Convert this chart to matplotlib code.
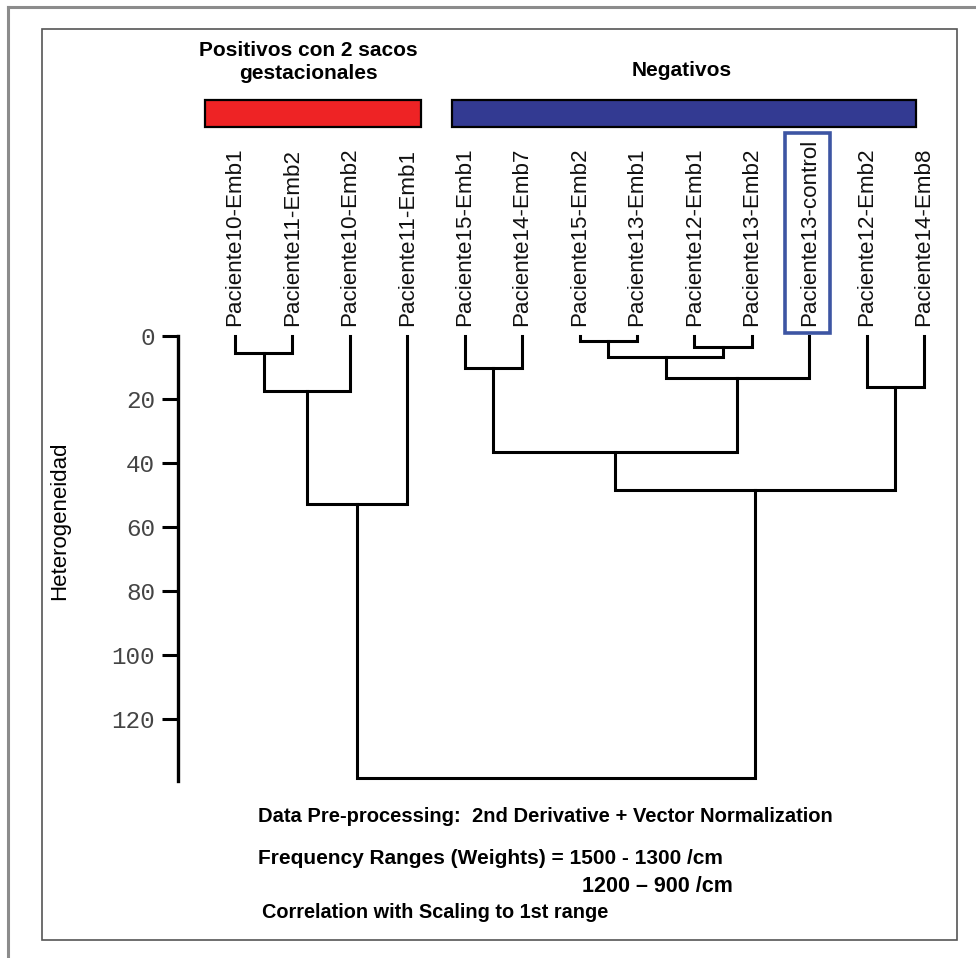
import matplotlib
matplotlib.use("Agg")
import matplotlib.pyplot as plt
from matplotlib.patches import Rectangle
from matplotlib.lines import Line2D

# leaves, left to right
leaf_labels = ["Paciente10-Emb1", "Paciente11-Emb2", "Paciente10-Emb2", "Paciente11-Emb1",
               "Paciente15-Emb1", "Paciente14-Emb7", "Paciente15-Emb2", "Paciente13-Emb1",
               "Paciente12-Emb1", "Paciente13-Emb2", "Paciente13-control", "Paciente12-Emb2",
               "Paciente14-Emb8"]

# merges: new cluster ids start at 13
merge_left = [0, 13, 14, 4, 6, 8, 17, 19, 16, 11, 21, 15]
merge_right = [1, 2, 3, 5, 7, 9, 18, 10, 20, 12, 22, 23]
merge_height = [5.5, 17.2, 52.8, 10.0, 1.6, 3.5, 6.6, 13.2, 36.4, 16.0, 48.5, 138.8]

yticks = [0, 20, 40, 60, 80, 100, 120]

W, H = 976, 958
fig = plt.figure(figsize=(W / 100, H / 100), dpi=100)
fig.patch.set_facecolor("white")


def fx(px):
    return px / W


def fy(py):
    return 1 - py / H


sans = ["Liberation Sans", "DejaVu Sans"]

# frames
fig.add_artist(Line2D([fx(8), fx(8)], [fy(7), 0], color="#8c8c8c", lw=2.2))
fig.add_artist(Line2D([fx(8), 1], [fy(7), fy(7)], color="#8c8c8c", lw=2.2))
fig.add_artist(Rectangle((fx(42), fy(940)), fx(957) - fx(42), fy(29) - fy(940),
                         transform=fig.transFigure, fill=False, ec="#555555", lw=1.2))

# dendrogram axes
ax = fig.add_axes([fx(178), fy(790), fx(945) - fx(178), fy(320) - fy(790)])
ax.set_xlim((178 - 235) / 57.42, (945 - 235) / 57.42)
ax.set_ylim((790 - 335.7) / 3.19, (320 - 335.7) / 3.19)

pos = {i: float(i) for i in range(len(leaf_labels))}
hgt = {i: 0.0 for i in range(len(leaf_labels))}
for k, (a, b, h) in enumerate(zip(merge_left, merge_right, merge_height)):
    ax.plot([pos[a], pos[a], pos[b], pos[b]], [hgt[a], h, h, hgt[b]],
            color="black", lw=2.2, clip_on=False, solid_joinstyle="miter")
    node = len(leaf_labels) + k
    pos[node] = (pos[a] + pos[b]) / 2
    hgt[node] = h

for i, lab in enumerate(leaf_labels):
    ax.text(i, -2.9, lab, rotation=90, ha="center", va="bottom",
            fontsize=16.1, family=sans, color="#111111")

for s in ["top", "right", "bottom"]:
    ax.spines[s].set_visible(False)
ax.spines["left"].set_linewidth(2.4)
ax.spines["left"].set_bounds(0, 139.5)
ax.set_xticks([])
ax.set_yticks(yticks)
ax.tick_params(axis="y", direction="out", length=11.5, width=2.2, pad=5,
               labelsize=17.5, labelcolor="#444444")
for t in ax.get_yticklabels():
    t.set_family(["Liberation Mono", "DejaVu Sans Mono"])
ax.patch.set_alpha(0)

fig.text(fx(60), fy(521), "Heterogeneidad", rotation=90, ha="center", va="center",
         fontsize=16, family=sans)

# highlighted control label
fig.add_artist(Rectangle((fx(785), fy(333)), fx(830) - fx(785), fy(133) - fy(333),
                         transform=fig.transFigure, fill=False, ec="#3d55a3", lw=2.6))

# group bars
fig.add_artist(Rectangle((fx(205), fy(127)), fx(421) - fx(205), fy(100) - fy(127),
                         transform=fig.transFigure, fc="#ee2325", ec="black", lw=1.6))
fig.add_artist(Rectangle((fx(452), fy(127)), fx(916) - fx(452), fy(100) - fy(127),
                         transform=fig.transFigure, fc="#333a92", ec="black", lw=1.6))
fig.text(fx(308), fy(62), "Positivos con 2 sacos\ngestacionales", ha="center", va="center",
         fontsize=15, fontweight="bold", family=sans, linespacing=1.3)
fig.text(fx(682), fy(70), "Negativos", ha="center", va="center",
         fontsize=15, fontweight="bold", family=sans)

# notes
fig.text(fx(258), fy(817), "Data Pre-processing:  2nd Derivative + Vector Normalization",
         ha="left", va="center", fontsize=14.5, fontweight="bold", family=sans)
fig.text(fx(258), fy(858), "Frequency Ranges (Weights) = 1500 - 1300 /cm",
         ha="left", va="center", fontsize=15, fontweight="bold", family=sans)
fig.text(fx(582), fy(886), "1200 \u2013 900 /cm",
         ha="left", va="center", fontsize=15.5, fontweight="bold", family=sans)
fig.text(fx(262), fy(913), "Correlation with Scaling to 1st range",
         ha="left", va="center", fontsize=14.3, fontweight="bold", family=sans)

fig.savefig("out.png", dpi=100, facecolor="white")
